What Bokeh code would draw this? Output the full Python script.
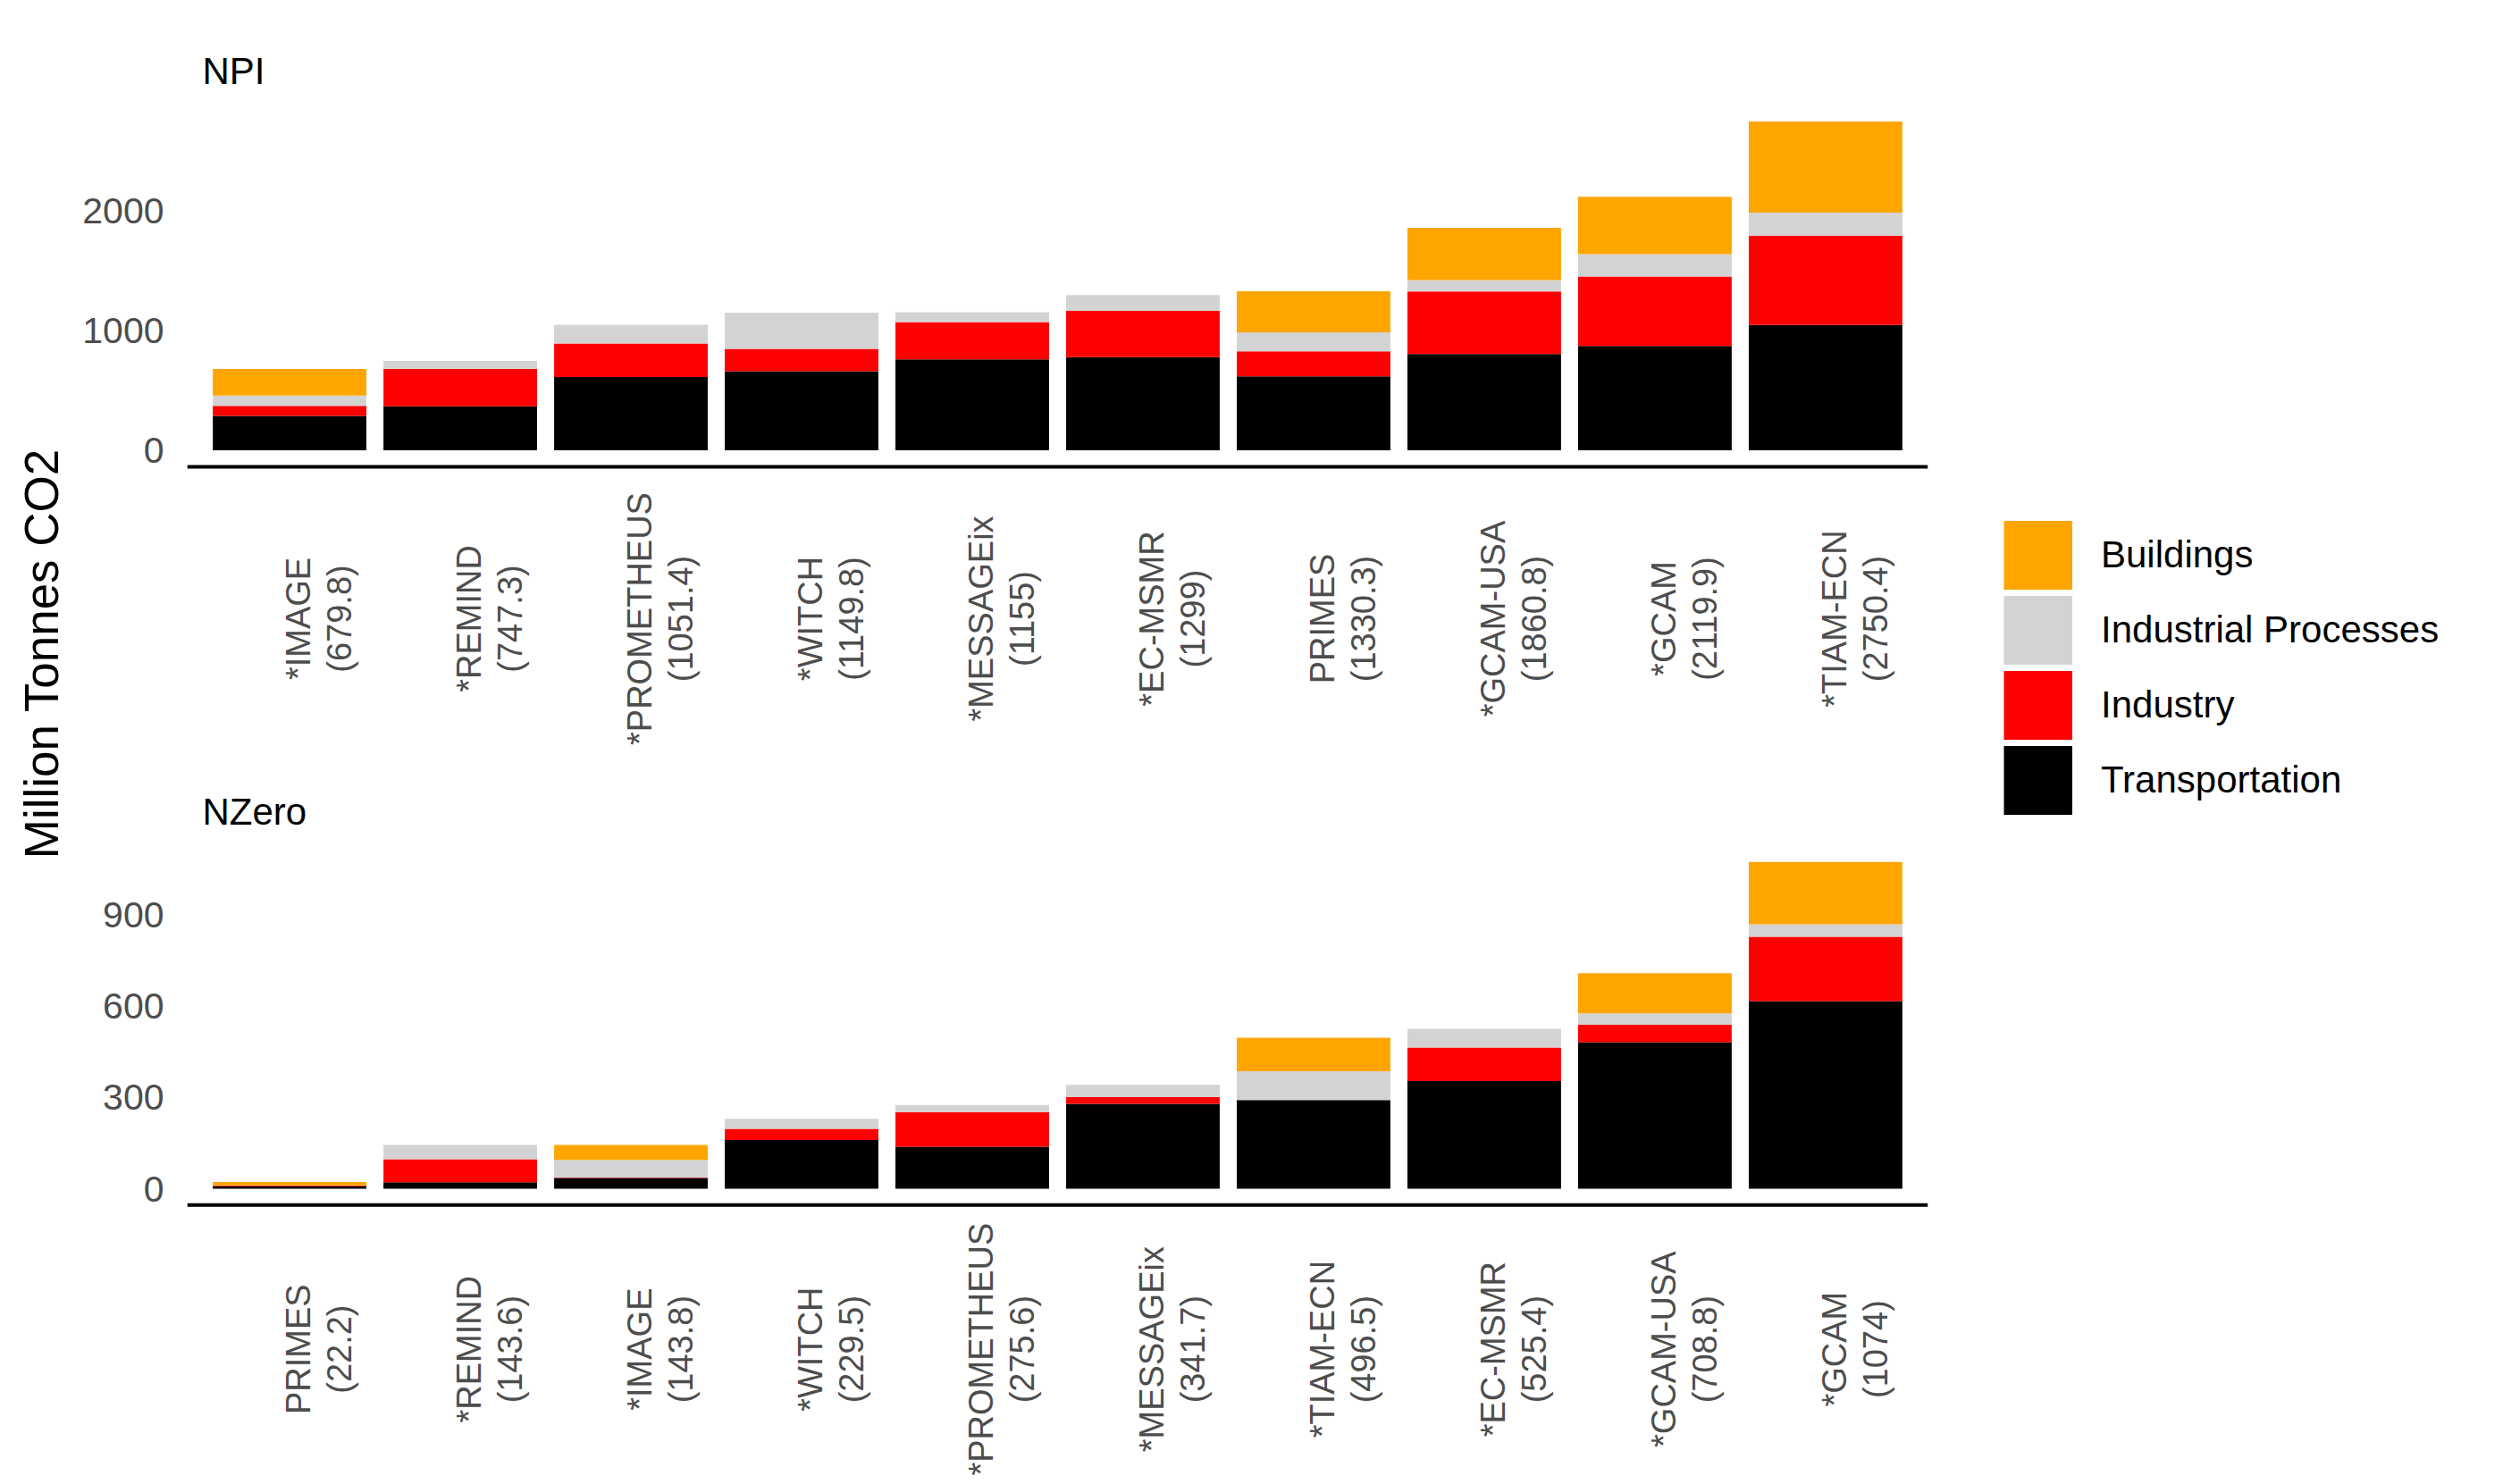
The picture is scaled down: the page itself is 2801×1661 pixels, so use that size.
import math
from bokeh.plotting import figure
from bokeh.models import (Range1d, FixedTicker, ColumnDataSource, Span,
                          Legend, LegendItem)
from bokeh.layouts import row, column
from bokeh.embed import file_html
from bokeh.resources import INLINE
from bokeh.core.properties import value

# ---------------- data ----------------
sectors = ["Transportation", "Industry", "Industrial Processes", "Buildings"]
sector_colors = ["#000000", "#FF0000", "#D3D3D3", "#FFA500"]

npi_models = ["*IMAGE", "*REMIND", "*PROMETHEUS", "*WITCH", "*MESSAGEix",
              "*EC-MSMR", "PRIMES", "*GCAM-USA", "*GCAM", "*TIAM-ECN"]
npi_totals = ["679.8", "747.3", "1051.4", "1149.8", "1155",
              "1299", "1330.3", "1860.8", "2119.9", "2750.4"]
npi_transport = [288, 368, 613, 661, 760, 779, 619, 805, 872, 1048]
npi_industry = [85, 312, 280, 187, 312, 389, 208, 523, 581, 747]
npi_indproc = [86, 67, 158, 302, 83, 131, 160, 96, 187, 192]
npi_buildings = [221, 0, 0, 0, 0, 0, 343, 437, 480, 763]
npi_ticks = [0, 1000, 2000]

nz_models = ["PRIMES", "*REMIND", "*IMAGE", "*WITCH", "*PROMETHEUS",
             "*MESSAGEix", "*TIAM-ECN", "*EC-MSMR", "*GCAM-USA", "*GCAM"]
nz_totals = ["22.2", "143.6", "143.8", "229.5", "275.6",
             "341.7", "496.5", "525.4", "708.8", "1074"]
nz_transport = [8, 21, 35, 160, 138, 279, 291.5, 354, 482, 617]
nz_industry = [2, 76, 2, 37, 114, 23, 0, 110, 58, 211]
nz_indproc = [1, 46.6, 58, 32.5, 23.6, 39.7, 95, 61.4, 36, 41]
nz_buildings = [11.2, 0, 48.8, 0, 0, 0, 110, 0, 132.8, 205]
nz_ticks = [0, 300, 600, 900]

FONT = "Liberation Sans"
TICK_GREY = "#4D4D4D"

PANEL_W = 2102


def make_panel(title, models, totals, series, ticks, height, frame_top,
               panel_h, label_offset_px):
    n = len(models)
    xs = list(range(1, n + 1))
    tot_vals = [sum(v) for v in zip(*series)]
    ymax = max(tot_vals)
    lo, hi = -0.05 * ymax, 1.05 * ymax
    upp = (hi - lo) / panel_h          # data units per pixel
    below_px = height - frame_top - panel_h
    start = lo - below_px * upp        # frame extends over the label area

    p = figure(width=PANEL_W, height=height,
               x_range=Range1d(0.4, n + 0.6), y_range=Range1d(start, hi),
               x_axis_location=None,
               output_backend="svg", toolbar_location=None,
               min_border_left=121, min_border_right=33,
               min_border_top=frame_top, min_border_bottom=0)

    data = {"x": xs}
    for name, vals in zip(sectors, series):
        data[name] = vals
    src = ColumnDataSource(data)
    p.vbar_stack(sectors, x="x", width=0.9, fill_color=sector_colors,
                 line_color=None, source=src)

    # bottom axis line of the panel
    p.add_layout(Span(location=lo, dimension="width", line_color="#000000",
                      line_width=4))

    # category labels (two lines, rotated, centred)
    lab_y = lo - label_offset_px * upp
    lsrc = ColumnDataSource(dict(
        x=xs, y=[lab_y] * n,
        text=[f"{m}\n({t})" for m, t in zip(models, totals)]))
    p.text(x="x", y="y", text="text", source=lsrc, angle=math.pi / 2,
           x_offset=33,
           text_align="center", text_baseline="middle",
           text_font=value(FONT), text_font_size="38px",
           text_color=TICK_GREY, text_line_height=1.1)

    p.title.text = title
    p.title.text_font = FONT
    p.title.text_font_size = "42px"
    p.title.text_font_style = "normal"
    p.title.text_color = "#000000"
    p.title.align = "left"
    p.title.offset = 17
    p.title.standoff = 29

    p.yaxis.ticker = FixedTicker(ticks=ticks)
    p.yaxis.axis_line_color = None
    p.yaxis.major_tick_line_color = None
    p.yaxis.minor_tick_line_color = None
    p.yaxis.major_label_text_font = FONT
    p.yaxis.major_label_text_font_size = "41px"
    p.yaxis.major_label_text_color = TICK_GREY
    p.yaxis.major_label_standoff = 20

    p.xgrid.visible = False
    p.ygrid.visible = False
    p.outline_line_color = None
    p.background_fill_color = "white"
    p.border_fill_color = "white"
    return p


TOP_H, BOT_H = 868, 790
TOTAL_H = TOP_H + BOT_H

top = make_panel("NPI", npi_models, npi_totals,
                 [npi_transport, npi_industry, npi_indproc, npi_buildings],
                 npi_ticks, height=TOP_H, frame_top=117, panel_h=405,
                 label_offset_px=170)
bot = make_panel("NZero", nz_models, nz_totals,
                 [nz_transport, nz_industry, nz_indproc, nz_buildings],
                 nz_ticks, height=BOT_H, frame_top=75, panel_h=404,
                 label_offset_px=162)

# ---------------- y title ----------------
TW = 88
tfig = figure(width=TW, height=TOTAL_H, x_range=Range1d(0, TW),
              y_range=Range1d(0, TOTAL_H), x_axis_type=None, y_axis_type=None,
              output_backend="svg", toolbar_location=None, min_border=0)
tfig.outline_line_color = None
tfig.xgrid.visible = False
tfig.ygrid.visible = False
tfig.text(x=[46], y=[TOTAL_H - 731], text=["Million Tonnes CO2"],
          angle=math.pi / 2, text_align="center", text_baseline="middle",
          text_font=value(FONT), text_font_size="53px", text_color="#000000")

# ---------------- legend ----------------
lfig = figure(width=595, height=TOTAL_H, x_range=Range1d(0, 1),
              y_range=Range1d(0, 1), x_axis_type=None, y_axis_type=None,
              output_backend="svg", toolbar_location=None, min_border=0)
lfig.outline_line_color = None
lfig.xgrid.visible = False
lfig.ygrid.visible = False
nan = float("nan")
rends = {}
for name, col in zip(sectors, sector_colors):
    # legend-only renderer (no visible data); its thick butt-capped line
    # draws a filled square key
    rends[name] = lfig.line(x=[nan, nan], y=[nan, nan], line_color=col,
                            line_width=77, line_cap="butt")
items = [LegendItem(label=name, renderers=[rends[name]])
         for name in reversed(sectors)]
legend = Legend(items=items, location=(52, TOTAL_H - 914.5),
                glyph_width=77, glyph_height=84, spacing=0,
                label_standoff=32, padding=0, margin=0,
                border_line_color=None, background_fill_alpha=0,
                label_text_font=FONT, label_text_font_size="42px",
                label_text_color="#000000", label_text_baseline="middle")
lfig.add_layout(legend)

layout = row(tfig, column(top, bot), lfig)

open("out.html", "w").write(file_html(layout, INLINE))
